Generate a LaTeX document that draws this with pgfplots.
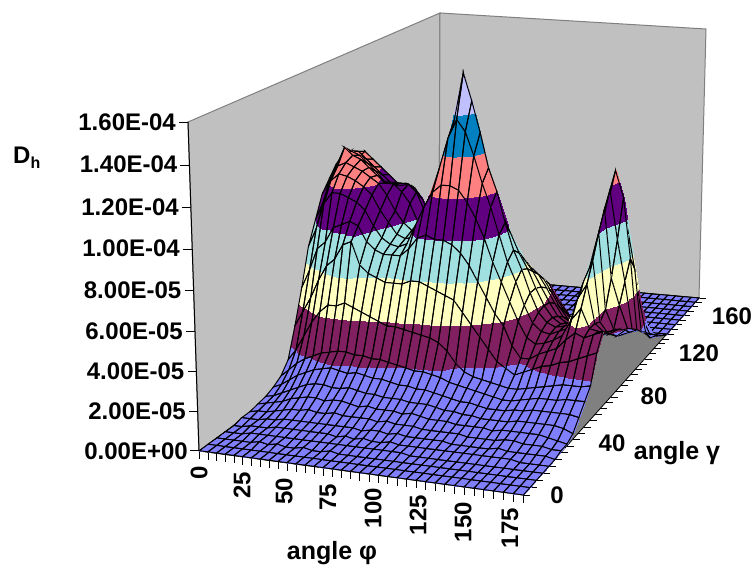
\documentclass[border=0pt]{standalone}
\usepackage{fontspec}
\setmainfont{Liberation Sans}
\usepackage{pgfplots}
\pgfplotsset{compat=1.18}
\newcommand\WW[3]{(1-0.07358*(#1)+0.29587*(#2)-0.05*(#3))}
\newcommand\PX[3]{((285.5*(#1)+369.59*(#2)-20.7*(#3)+199.3)/\WW{#1}{#2}{#3})}
\newcommand\PY[3]{(-(7.88*(#1)-94.34*(#2)-334.8*(#3)+450.7)/\WW{#1}{#2}{#3})}
\newcommand\UU{(mod(\coordindex,36)/35)}
\newcommand\LB[4][center]{\node[anchor=#1,font=\fontsize{#4}{#4}\selectfont\bfseries,inner sep=0pt] at (axis cs:#2) {#3};}
\definecolor{wallc}{RGB}{192,192,192}
\definecolor{floorc}{RGB}{128,128,128}
\pgfplotsset{table/stripxy/.style={x expr={\PX{\UU}{((#1-floor(\coordindex/36))/35)}{\thisrow{d}/160}},y expr={\PY{\UU}{((#1-floor(\coordindex/36))/35)}{\thisrow{d}/160}},row sep=\\}}
\newcommand\Rw[2]{\expandafter\def\csname R#1\endcsname{#2}}
% D_h in units of 1e-6: one row per gamma index (gamma=5*index), columns phi=0..175
\Rw{35}{0\\0\\0\\0\\0\\0\\0\\0\\0\\0\\0\\0\\0\\0\\0\\0\\0\\0\\0\\0\\0\\0\\0\\0\\0\\0\\0\\0\\0\\0\\0\\0\\0\\0\\0\\0\\}
\Rw{34}{0\\0\\0\\0\\0\\0\\0\\0\\0\\0\\0\\0\\0\\0\\0\\0\\0\\0\\0\\0\\0\\0\\0\\0\\0\\0\\0\\0\\0\\0\\0\\0\\0\\0\\0\\0\\}
\Rw{33}{0\\0\\0\\0\\0\\0\\0\\0\\0\\0\\0\\0\\0\\0\\0\\0\\0\\0\\0\\0\\0\\0\\0\\0\\0\\0\\0\\0\\0\\0\\0\\0\\0\\0\\0\\0\\}
\Rw{32}{0\\0\\0\\0\\0\\0\\0\\0\\0\\0\\0\\0\\0\\0\\0\\0\\0\\0\\0\\0\\0\\0\\0\\0\\0\\0\\0\\0\\0\\0\\0\\0\\0\\0\\0\\0\\}
\Rw{31}{0\\0\\0\\0\\0\\0\\0\\0\\0\\0\\0\\0\\0\\0\\0\\0\\0\\0\\0\\0\\0\\0\\0\\0\\0\\0\\0\\0\\0\\0\\0\\0\\0\\0\\0\\0\\}
\Rw{30}{2\\2\\2\\1\\1\\1\\1\\1\\1\\0\\0\\0\\0\\0\\0\\0\\0\\0\\0\\0\\0\\0\\0\\0\\0\\0\\0\\0\\0\\0\\0\\0\\0\\0\\0\\0\\}
\Rw{29}{4\\4\\4\\4\\3\\3\\3\\2\\2\\2\\2\\1\\1\\1\\1\\1\\1\\1\\1\\1\\1\\0\\0\\0\\0\\0\\0\\0\\0\\0\\0\\0\\0\\0\\0\\0\\}
\Rw{28}{9\\9\\9\\8\\8\\7\\6\\6\\5\\5\\4\\4\\3\\3\\2\\2\\2\\2\\2\\2\\2\\2\\1\\1\\1\\0\\0\\0\\0\\0\\0\\0\\0\\0\\0\\0\\}
\Rw{27}{16\\16\\16\\15\\14\\12\\12\\11\\10\\9\\8\\7\\6\\5\\5\\4\\4\\4\\4\\4\\4\\4\\4\\3\\2\\1\\1\\0\\0\\0\\0\\0\\1\\0\\0\\0\\}
\Rw{26}{26\\26\\26\\24\\22\\20\\20\\18\\16\\15\\13\\12\\10\\9\\8\\8\\8\\8\\8\\8\\9\\9\\8\\7\\5\\3\\2\\1\\1\\1\\0\\2\\4\\2\\1\\2\\}
\Rw{25}{38\\38\\38\\36\\34\\32\\30\\28\\26\\24\\21\\19\\17\\14\\13\\13\\12\\12\\13\\14\\15\\15\\14\\12\\10\\7\\5\\3\\2\\3\\2\\6\\10\\7\\3\\5\\}
\Rw{24}{50\\52\\52\\50\\48\\44\\42\\40\\38\\34\\30\\27\\24\\20\\18\\18\\18\\18\\19\\20\\22\\22\\21\\19\\16\\12\\9\\6\\5\\6\\6\\14\\20\\16\\9\\8\\}
\Rw{23}{64\\66\\68\\66\\62\\58\\54\\52\\50\\44\\40\\36\\30\\26\\24\\24\\24\\24\\26\\28\\30\\30\\28\\26\\24\\19\\14\\10\\8\\9\\12\\26\\36\\30\\20\\11\\}
\Rw{22}{78\\80\\82\\80\\76\\72\\68\\66\\62\\56\\50\\46\\38\\32\\30\\30\\30\\32\\34\\36\\38\\38\\36\\34\\32\\26\\20\\15\\12\\14\\20\\44\\58\\50\\35\\15\\}
\Rw{21}{90\\92\\96\\94\\90\\86\\82\\80\\76\\68\\60\\54\\44\\38\\36\\36\\38\\40\\42\\44\\46\\46\\42\\42\\40\\32\\25\\20\\17\\18\\28\\62\\84\\74\\52\\18\\}
\Rw{20}{100\\104\\108\\104\\100\\96\\92\\90\\90\\84\\74\\62\\50\\44\\42\\42\\44\\46\\50\\52\\54\\52\\50\\48\\45\\38\\30\\24\\21\\22\\36\\82\\106\\92\\60\\22\\}
\Rw{19}{106\\110\\110\\106\\102\\98\\94\\94\\94\\92\\86\\74\\58\\50\\48\\50\\54\\58\\60\\62\\62\\60\\58\\54\\50\\43\\35\\28\\25\\26\\34\\74\\98\\72\\50\\25\\}
\Rw{18}{104\\110\\112\\110\\106\\102\\97\\95\\95\\96\\92\\82\\64\\58\\58\\62\\68\\76\\78\\78\\74\\70\\66\\60\\54\\46\\38\\31\\28\\29\\32\\68\\90\\54\\40\\28\\}
\Rw{17}{98\\106\\116\\112\\110\\106\\102\\98\\98\\94\\88\\78\\68\\66\\70\\78\\92\\112\\112\\104\\94\\86\\76\\66\\58\\48\\39\\33\\30\\31\\32\\60\\80\\40\\30\\30\\}
\Rw{16}{92\\100\\108\\110\\108\\106\\103\\100\\94\\86\\80\\76\\72\\76\\88\\104\\136\\160\\146\\130\\112\\100\\84\\70\\60\\48\\38\\33\\31\\32\\34\\56\\68\\36\\30\\33\\}
\Rw{15}{80\\90\\102\\106\\105\\103\\100\\96\\88\\82\\76\\74\\75\\84\\98\\112\\128\\138\\132\\120\\106\\94\\80\\66\\56\\44\\35\\31\\30\\32\\34\\50\\58\\38\\34\\35\\}
\Rw{14}{68\\78\\92\\98\\98\\96\\94\\90\\82\\76\\73\\72\\74\\84\\94\\102\\106\\106\\104\\98\\90\\80\\68\\58\\48\\38\\30\\27\\28\\30\\33\\42\\48\\38\\37\\37\\}
\Rw{13}{48\\58\\70\\74\\82\\84\\86\\84\\76\\72\\70\\70\\70\\74\\80\\82\\80\\80\\78\\74\\68\\60\\52\\44\\38\\28\\22\\22\\25\\27\\29\\34\\38\\36\\38\\40\\}
\Rw{12}{30\\38\\46\\56\\64\\68\\76\\78\\66\\62\\60\\58\\58\\58\\60\\60\\58\\56\\54\\52\\46\\40\\34\\28\\22\\19\\16\\18\\20\\22\\23\\25\\26\\28\\30\\32\\}
\Rw{11}{14\\20\\28\\36\\42\\46\\46\\48\\46\\44\\42\\40\\38\\38\\37\\36\\35\\34\\32\\28\\22\\18\\16\\15\\14\\13\\12\\12\\13\\14\\15\\16\\17\\17\\17\\18\\}
\Rw{10}{8\\12\\16\\19\\21\\23\\24\\25\\25\\24\\24\\23\\23\\22\\21\\20\\19\\19\\18\\17\\15\\14\\13\\12\\11\\10\\9\\9\\10\\11\\12\\12\\12\\13\\13\\13\\}
\Rw{9}{5\\7\\10\\13\\15\\17\\18\\19\\18\\17\\18\\17\\16\\16\\15\\14\\14\\13\\13\\12\\11\\10\\9\\9\\8\\7\\7\\7\\8\\8\\9\\9\\9\\9\\9\\8\\}
\Rw{8}{3\\4\\6\\8\\10\\12\\13\\13\\12\\12\\13\\12\\11\\11\\10\\10\\10\\9\\9\\9\\8\\7\\7\\6\\6\\5\\5\\5\\5\\6\\6\\6\\6\\6\\5\\3\\}
\Rw{7}{2\\3\\4\\5\\7\\8\\9\\9\\8\\9\\9\\8\\7\\8\\7\\7\\7\\6\\7\\6\\5\\5\\5\\4\\4\\4\\4\\3\\4\\4\\4\\4\\4\\3\\2\\1\\}
\Rw{6}{1\\2\\2\\3\\4\\5\\5\\6\\5\\5\\6\\5\\5\\5\\5\\4\\5\\4\\4\\4\\3\\3\\3\\3\\3\\2\\2\\2\\2\\3\\3\\2\\2\\2\\1\\1\\}
\Rw{5}{1\\1\\1\\2\\2\\3\\3\\3\\3\\3\\3\\3\\3\\3\\2\\3\\3\\2\\3\\2\\2\\2\\2\\2\\1\\1\\1\\1\\1\\2\\1\\1\\1\\1\\1\\0\\}
\Rw{4}{0\\0\\1\\1\\1\\2\\2\\2\\2\\2\\2\\2\\1\\2\\1\\2\\1\\1\\2\\1\\1\\1\\1\\1\\1\\1\\1\\1\\1\\1\\1\\1\\0\\0\\0\\0\\}
\Rw{3}{0\\0\\0\\1\\1\\1\\1\\1\\1\\1\\1\\1\\1\\1\\1\\1\\1\\1\\1\\1\\1\\0\\0\\0\\0\\0\\0\\0\\0\\0\\0\\0\\0\\0\\0\\0\\}
\Rw{2}{0\\0\\0\\0\\0\\1\\0\\1\\0\\0\\1\\0\\0\\1\\0\\0\\0\\0\\0\\0\\0\\0\\0\\0\\0\\0\\0\\0\\0\\0\\0\\0\\0\\0\\0\\0\\}
\Rw{1}{0\\0\\0\\0\\0\\0\\0\\0\\0\\0\\0\\0\\0\\0\\0\\0\\0\\0\\0\\0\\0\\0\\0\\0\\0\\0\\0\\0\\0\\0\\0\\0\\0\\0\\0\\0\\}
\Rw{0}{0\\0\\0\\0\\0\\0\\0\\0\\0\\0\\0\\0\\0\\0\\0\\0\\0\\0\\0\\0\\0\\0\\0\\0\\0\\0\\0\\0\\0\\0\\0\\0\\0\\0\\0\\0\\}
\newcommand\Strip[1]{%
 \pgfmathtruncatemacro\Jn{#1+1}%
 \begingroup\let\\\relax
 \xdef\tmpA{\noexpand\addplot[forget plot,surf,shader=interp,z buffer=none,mesh/cols=36,mesh/rows=2,point meta=\noexpand\thisrow{d}] table[stripxy=\Jn] {d\\ \csname R\Jn\endcsname \csname R#1\endcsname};}%
 \xdef\tmpB{\noexpand\addplot[forget plot,surf,shader=faceted,faceted color=black,fill opacity=0,line width=1pt,z buffer=none,mesh/cols=36,mesh/rows=2,point meta=\noexpand\thisrow{d}] table[stripxy=\Jn] {d\\ \csname R\Jn\endcsname \csname R#1\endcsname};}%
 \endgroup
 \tmpA\tmpB}
\begin{document}
\begin{tikzpicture}
\path[use as bounding box] (0,0) rectangle (753pt,568pt);
\begin{axis}[at={(0,0)},anchor=south west,scale only axis,width=753pt,height=568pt,
 xmin=0,xmax=753,ymin=-568,ymax=0,axis lines=none,clip=false,
 point meta min=0,point meta max=160,colormap access=piecewise constant,
 colormap={bands}{rgb255=(128,128,255) rgb255=(128,32,96) rgb255=(255,255,192) rgb255=(160,224,224) rgb255=(96,0,128) rgb255=(255,128,128) rgb255=(0,128,192) rgb255=(192,192,255)}]
% walls and floor (pixel corners)
\addplot[fill=wallc,draw=floorc,line width=1pt,forget plot] coordinates {(199,-451) (439,-275) (440,-13) (188,-122) (199,-451)};
\addplot[fill=wallc,draw=floorc,line width=1pt,forget plot] coordinates {(439,-275) (699,-298) (706,-29) (440,-13) (439,-275)};
\addplot[fill=floorc,draw=black,line width=.8pt,forget plot] coordinates {(199,-451) (523,-495) (699,-298) (439,-275) (199,-451)};
\addplot[black,line width=1pt,forget plot] coordinates {(199,-451) (188,-122)};
% ticks
\addplot[forget plot,draw=none,mark=none,error bars/.cd,y dir=minus,y fixed=8,error mark=none,error bar style={black,line width=.7pt}] table[x expr={\PX{\thisrow{p}/175}{0}{0}},y expr={\PY{\thisrow{p}/175}{0}{0}},row sep=\\] {p\\0\\5\\10\\15\\20\\25\\30\\35\\40\\45\\50\\55\\60\\65\\70\\75\\80\\85\\90\\95\\100\\105\\110\\115\\120\\125\\130\\135\\140\\145\\150\\155\\160\\165\\170\\175\\};
\addplot[forget plot,draw=none,mark=none,error bars/.cd,x dir=plus,x fixed=7,error mark=none,error bar style={black,line width=.7pt}] table[x expr={\PX{1}{\thisrow{g}/175}{0}},y expr={\PY{1}{\thisrow{g}/175}{0}},row sep=\\] {g\\0\\5\\10\\15\\20\\25\\30\\35\\40\\45\\50\\55\\60\\65\\70\\75\\80\\85\\90\\95\\100\\105\\110\\115\\120\\125\\130\\135\\140\\145\\150\\155\\160\\165\\170\\175\\};
\addplot[forget plot,draw=none,mark=none,error bars/.cd,x dir=minus,x fixed=9,error mark=none,error bar style={black,line width=.7pt}] table[x expr={\PX{0}{0}{\thisrow{z}/160}},y expr={\PY{0}{0}{\thisrow{z}/160}},row sep=\\] {z\\0\\20\\40\\60\\80\\100\\120\\140\\160\\};
% surface, back to front
\pgfplotsinvokeforeach{34,33,...,0}{\Strip{#1}}
% text
\LB[east]{176,-122}{1.60E-04}{24}
\LB[east]{177.5,-164}{1.40E-04}{24}
\LB[east]{179,-207}{1.20E-04}{24}
\LB[east]{180,-248}{1.00E-04}{24}
\LB[east]{181.5,-290}{8.00E-05}{24}
\LB[east]{183,-331}{6.00E-05}{24}
\LB[east]{184.5,-371}{4.00E-05}{24}
\LB[east]{186,-411}{2.00E-05}{24}
\LB[east]{188,-451}{0.00E+00}{24}
\node[anchor=base west,inner sep=0pt,font=\fontsize{24}{24}\selectfont\bfseries] at (axis cs:13,-164) {D\raisebox{-5pt}{\fontsize{16}{16}\selectfont h}};
\node[rotate=90,inner sep=0pt,font=\fontsize{24}{24}\selectfont\bfseries] at (axis cs:199,-473) {0};
\node[rotate=90,inner sep=0pt,font=\fontsize{24}{24}\selectfont\bfseries] at (axis cs:242,-485) {25};
\node[rotate=90,inner sep=0pt,font=\fontsize{24}{24}\selectfont\bfseries] at (axis cs:284,-491) {50};
\node[rotate=90,inner sep=0pt,font=\fontsize{24}{24}\selectfont\bfseries] at (axis cs:328,-497) {75};
\node[rotate=90,inner sep=0pt,font=\fontsize{24}{24}\selectfont\bfseries] at (axis cs:373,-508) {100};
\node[rotate=90,inner sep=0pt,font=\fontsize{24}{24}\selectfont\bfseries] at (axis cs:418,-515) {125};
\node[rotate=90,inner sep=0pt,font=\fontsize{24}{24}\selectfont\bfseries] at (axis cs:463,-522) {150};
\node[rotate=90,inner sep=0pt,font=\fontsize{24}{24}\selectfont\bfseries] at (axis cs:510,-528) {175};
\LB{557,-495}{0}{24}
\LB{612,-443}{40}{24}
\LB{654,-396}{80}{24}
\LB{699,-353}{120}{24}
\LB{732,-316}{160}{24}
\LB{677,-453}{angle γ}{25}
\LB{332,-553}{angle φ}{25}
\end{axis}
\end{tikzpicture}
\end{document}
